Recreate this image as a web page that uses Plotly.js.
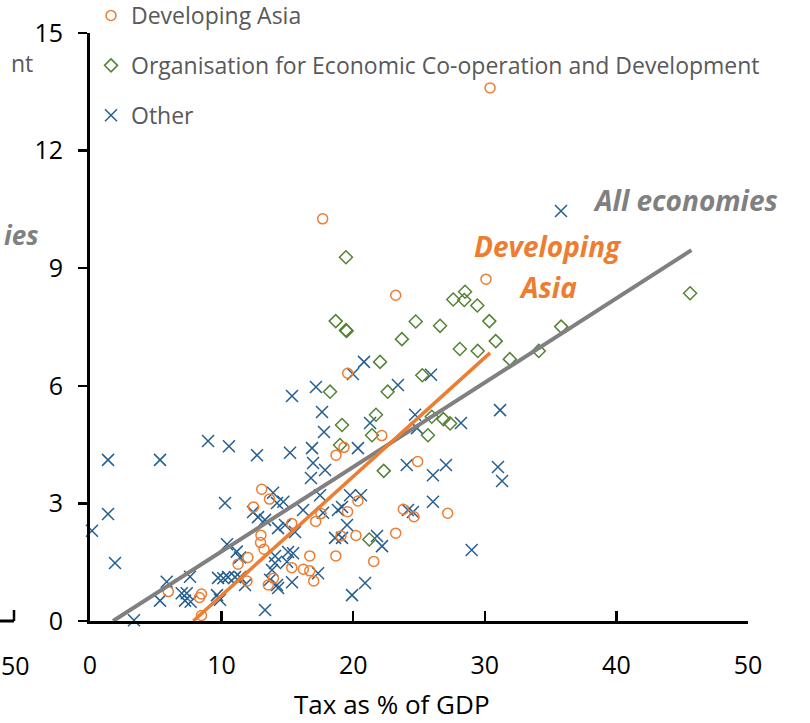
<!DOCTYPE html>
<html>
<head>
<meta charset="utf-8">
<script src="https://cdn.plot.ly/plotly-3.0.1.min.js"></script>
<style>html,body{margin:0;padding:0;background:#fff;}#chart{width:810px;height:723px;}</style>
</head>
<body>
<div id="chart"></div>
<script>
// Developing Asia (tax % of GDP, value)
const asiaTax = [30.4,17.68,30.09,23.23,19.58,22.17,19.3,18.69,24.9,20.36,19.57,17.15,15.33,19.07,20.21,23.81,24.62,27.18,23.23,21.56,18.68,16.7,15.33,16.21,16.7,17.0,13.94,13.55,13.05,13.64,12.42,12.99,12.96,13.22,12.0,11.25,11.93,8.47,8.32,5.95,8.47,17.55];
const asiaVal = [13.6,10.26,8.72,8.31,6.32,4.73,4.43,4.23,4.07,3.06,2.79,2.54,2.49,2.17,2.18,2.85,2.66,2.75,2.24,1.52,1.66,1.66,1.36,1.32,1.28,1.02,1.09,0.92,3.36,3.11,2.91,2.19,2.0,1.83,1.62,1.45,1.02,0.69,0.6,0.75,0.14,2.74];
// OECD
const oecdTax = [19.45,18.67,19.45,19.5,24.75,23.7,26.6,22.04,25.25,18.24,22.62,21.73,19.15,21.43,19.0,25.97,26.85,27.36,25.68,22.32,21.22,27.6,28.5,28.44,29.43,30.34,30.83,28.1,29.46,31.9,34.1,35.8,45.6];
const oecdVal = [9.28,7.65,7.42,7.4,7.64,7.19,7.53,6.61,6.27,5.85,5.85,5.26,5.0,4.74,4.49,5.21,5.15,5.04,4.74,3.83,2.08,8.2,8.4,8.19,8.05,7.65,7.14,6.94,6.89,6.68,6.89,7.51,8.36];
// Other
const otherTax = [0.15,1.37,1.37,1.9,3.34,5.32,5.83,5.32,6.97,7.6,7.22,7.65,7.35,8.97,10.56,12.69,10.26,10.41,9.73,9.88,9.65,10.49,11.02,11.4,11.15,11.4,11.78,12.39,12.77,13.3,13.3,13.91,14.21,14.69,14.06,13.83,13.68,14.21,16.19,17.71,18.84,19.15,19.76,20.59,19.53,18.62,19.15,21.81,22.19,14.82,15.58,15.05,15.43,14.06,14.97,17.33,15.35,14.29,24.16,24.54,26.06,17.48,16.79,19.91,20.9,20.82,19.98,17.17,15.35,17.63,17.78,15.2,16.87,16.95,17.86,20.36,21.28,23.4,25.91,24.7,24.85,28.19,31.16,24.07,26.06,27.05,31.0,31.31,29.0,35.79,14.29,10.13];
const otherVal = [2.3,4.11,2.73,1.48,0.02,4.11,1.0,0.52,0.71,1.13,0.52,0.49,0.71,4.59,4.46,4.23,3.01,1.96,1.1,0.54,0.66,1.12,1.12,1.12,1.77,1.62,0.92,2.78,2.65,2.58,0.28,3.27,3.01,3.04,1.66,1.3,1.05,0.92,2.83,2.76,2.83,2.91,3.21,3.21,2.45,2.12,2.12,2.17,1.91,2.45,2.27,1.76,1.73,1.48,1.51,1.22,0.99,0.84,2.83,2.78,3.04,3.21,3.65,0.66,0.97,6.61,6.3,5.97,5.74,5.33,4.82,4.29,4.41,4.03,3.85,4.41,5.05,6.02,6.28,5.26,4.92,5.05,5.38,3.98,3.72,3.98,3.93,3.57,1.81,10.46,2.37,1.09];
// Fitted lines
const allFitTax = [1.75, 45.7];
const allFitVal = [0, 9.46];
const asiaFitTax = [7.85, 30.4];
const asiaFitVal = [0, 6.84];

const seriesNames = ['Developing Asia','Organisation for Economic Co-operation and Development','Other'];
const xTicks = [0,10,20,30,40,50];
const yTicks = [0,3,6,9,12,15];
const xTitle = 'Tax as % of GDP';

const FONT = "'Open Sans', Lato, sans-serif";
const ORANGE = '#ED7D31', GREEN = '#548235', BLUE = '#255E91', GREY = '#808080';

const traces = [
  {x: otherTax, y: otherVal, type:'scatter', mode:'markers', name: seriesNames[2], legendgroup:'c', legendrank:3,
   marker:{symbol:'x-thin-open', size:12, line:{color:BLUE, width:1.5}, color:BLUE}, cliponaxis:false},
  {x: oecdTax, y: oecdVal, type:'scatter', mode:'markers', name: seriesNames[1], legendgroup:'b', legendrank:2,
   marker:{symbol:'diamond-open', size:10, color:GREEN, line:{color:GREEN, width:1.5}}, cliponaxis:false},
  {x: asiaTax, y: asiaVal, type:'scatter', mode:'markers', name: seriesNames[0], legendgroup:'a', legendrank:1,
   marker:{symbol:'circle-open', size:10, color:ORANGE, line:{color:ORANGE, width:1.5}}, cliponaxis:false},
  {x: allFitTax, y: allFitVal, type:'scatter', mode:'lines', showlegend:false, line:{color:GREY, width:4}, hoverinfo:'skip'},
  {x: asiaFitTax, y: asiaFitVal, type:'scatter', mode:'lines', showlegend:false, line:{color:ORANGE, width:3.5}, hoverinfo:'skip'}
];

function px(x){ return (x-90)/658; }
function py(y){ return (621-y)/588; }

const layout = {
  width:810, height:723,
  margin:{l:90, r:62, t:33, b:102, pad:0, autoexpand:false},
  paper_bgcolor:'#fff', plot_bgcolor:'#fff',
  font:{family:FONT, color:'#000'},
  showlegend:true,
  legend:{x:px(91), xanchor:'left', y:py(-6), yanchor:'top', traceorder:'grouped', tracegroupgap:17,
          font:{family:FONT, size:23, color:'#595959'}, bgcolor:'rgba(0,0,0,0)', borderwidth:0},
  xaxis:{range:[0,50], tickvals:xTicks, ticktext:xTicks.map(String), ticks:'inside', ticklen:10, tickwidth:2.5, tickcolor:'#000',
         showline:true, linewidth:3, linecolor:'#000', showgrid:false, zeroline:false,
         tickfont:{family:FONT, size:25, color:'#000'}, ticklabelstandoff:20},
  yaxis:{range:[0,15], tickvals:yTicks, ticktext:yTicks.map(String), ticks:'outside', ticklen:9, tickwidth:2.5, tickcolor:'#000',
         showline:true, linewidth:3, linecolor:'#000', showgrid:false, zeroline:false,
         tickfont:{family:FONT, size:25, color:'#000'}, ticklabelstandoff:10},
  annotations:[
    {xref:'paper', yref:'paper', x:px(392), y:py(704), xanchor:'center', yanchor:'middle', showarrow:false,
     text:xTitle, font:{family:FONT, size:26, color:'#000'}},
    {xref:'paper', yref:'paper', x:px(780), y:py(200), xanchor:'right', yanchor:'middle', showarrow:false,
     text:'<b><i>All economies</i></b>', font:{family:FONT, size:28, color:GREY}},
    {xref:'paper', yref:'paper', x:px(548), y:py(246), xanchor:'center', yanchor:'middle', showarrow:false,
     text:'<b><i>Developing</i></b>', font:{family:FONT, size:28, color:ORANGE}},
    {xref:'paper', yref:'paper', x:px(548), y:py(287), xanchor:'center', yanchor:'middle', showarrow:false,
     text:'<b><i>Asia</i></b>', font:{family:FONT, size:28, color:ORANGE}},
    {xref:'paper', yref:'paper', x:px(35), y:py(63), xanchor:'right', yanchor:'middle', showarrow:false,
     text:'nt', font:{family:FONT, size:23, color:'#595959'}},
    {xref:'paper', yref:'paper', x:px(2), y:py(235), xanchor:'left', yanchor:'middle', showarrow:false,
     text:'<b><i>ies</i></b>', font:{family:FONT, size:26, color:GREY}},
    {xref:'paper', yref:'paper', x:px(15), y:py(665), xanchor:'center', yanchor:'middle', showarrow:false,
     text:'50', font:{family:FONT, size:25, color:'#000'}}
  ],
  shapes:[
    {type:'line', xref:'paper', yref:'paper', x0:px(-2), x1:px(14), y0:py(621), y1:py(621), line:{color:'#000', width:3}},
    {type:'line', xref:'paper', yref:'paper', x0:px(14), x1:px(14), y0:py(621), y1:py(610), line:{color:'#000', width:2.5}}
  ]
};

Plotly.newPlot('chart', traces, layout, {displayModeBar:false, staticPlot:true});
</script>
</body>
</html>
